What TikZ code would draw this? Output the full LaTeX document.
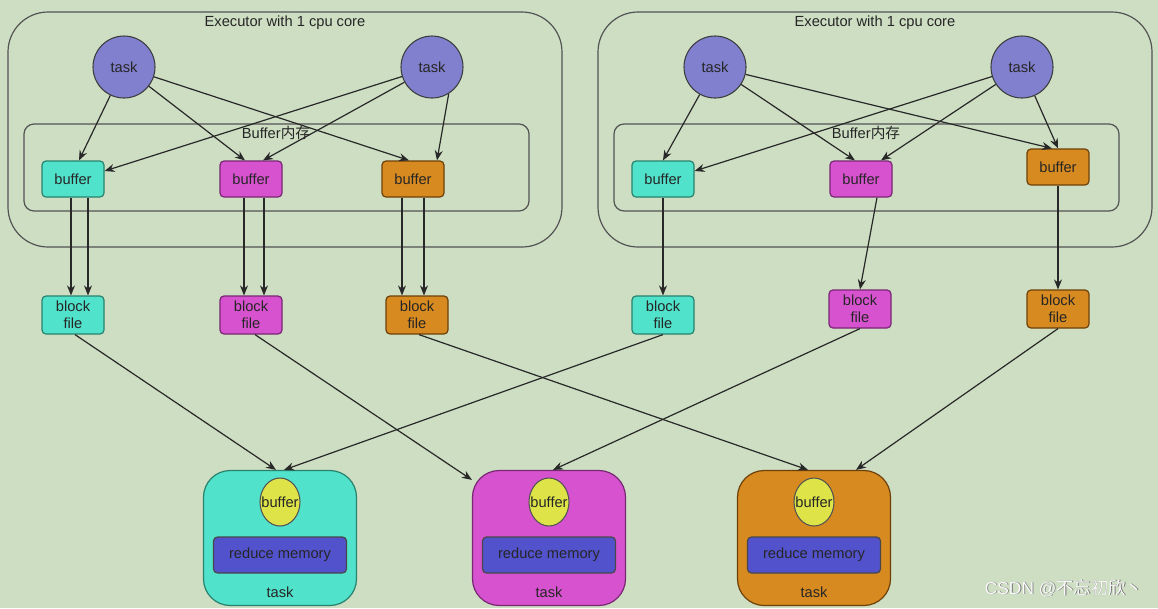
\documentclass[tikz,border=0pt]{standalone}
\usepackage{fontspec}
\setmainfont{Liberation Sans}
\newfontfamily\cjk{Noto Sans CJK SC}
\usetikzlibrary{arrows.meta,calc,shapes.geometric}
\definecolor{bg}{RGB}{206,222,195}
\definecolor{cy}{RGB}{80,226,202}
\definecolor{cyb}{RGB}{40,130,110}
\definecolor{mg}{RGB}{215,82,207}
\definecolor{mgb}{RGB}{120,40,115}
\definecolor{og}{RGB}{214,138,32}
\definecolor{ogb}{RGB}{110,65,10}
\definecolor{tk}{RGB}{128,128,206}
\definecolor{rm}{RGB}{82,82,204}
\definecolor{yl}{RGB}{222,228,72}
\definecolor{ln}{RGB}{40,40,40}
\tikzset{
  txt/.style={font=\fontsize{11}{12}\selectfont, text=black!85},
  exec/.style={draw=ln!80, line width=0.9pt, rounded corners=30pt, minimum width=415.5pt, minimum height=176.25pt, inner sep=0pt},
  bufmem/.style={draw=ln!80, line width=0.9pt, rounded corners=7.5pt, minimum width=378.75pt, minimum height=65.25pt, inner sep=0pt},
  taskc/.style={circle, draw=ln!90, line width=0.8pt, fill=tk, minimum size=46.5pt, inner sep=0pt, txt},
  buf/.style={draw=#1b, fill=#1, line width=0.9pt, rounded corners=3pt, minimum width=46.5pt, minimum height=27pt, inner sep=0pt, txt},
  blk/.style={draw=#1b, fill=#1, line width=0.9pt, rounded corners=3pt, minimum width=46.5pt, minimum height=28.5pt, inner sep=0pt, align=center, txt, font=\fontsize{11}{13}\selectfont},
  rtask/.style={draw=#1b, fill=#1, line width=0.9pt, rounded corners=20pt, minimum width=114.75pt, minimum height=101.25pt, inner sep=0pt},
  ybuf/.style={ellipse, draw=ln!80, fill=yl, line width=0.8pt, minimum width=30pt, minimum height=36pt, inner sep=0pt},
  rmem/.style={draw=ln!85, fill=rm, line width=0.9pt, rounded corners=3pt, minimum width=99.75pt, minimum height=27pt, inner sep=0pt, txt},
  arr/.style={draw=ln, line width=0.9pt, -{Stealth[length=7.5pt,width=6pt]}},
}
\begin{document}
\begin{tikzpicture}[x=0.75pt,y=-0.75pt]
\fill[bg] (0,0) rectangle (1158,608);
\useasboundingbox (0,0) rectangle (1158,608);

% executors
\node[exec] (ex1) at (285,129.5) {};
\node[exec] (ex2) at (875,129.5) {};
\node[txt] (ex1t) at (285,23) {Executor with 1 cpu core};
\node[txt] (ex2t) at (875,23) {Executor with 1 cpu core};
\node[bufmem] (bm1) at (276.5,167.5) {};
\node[bufmem] (bm2) at (866.5,167.5) {};
\node[txt] (bm1t) at (276,133) {Buffer{\cjk 内存}};
\node[txt] (bm2t) at (866,133) {Buffer{\cjk 内存}};

% tasks
\node[taskc] (t1) at (124,67) {task};
\node[taskc] (t2) at (432,67) {task};
\node[taskc] (t3) at (715,67) {task};
\node[taskc] (t4) at (1022,67) {task};

% buffers
\node[buf=cy] (b1) at (73,179) {buffer};
\node[buf=mg] (b2) at (251,179) {buffer};
\node[buf=og] (b3) at (413,179) {buffer};
\node[buf=cy] (b4) at (663,179) {buffer};
\node[buf=mg] (b5) at (861,179) {buffer};
\node[buf=og] (b6) at (1058,167) {buffer};

% block files
\node[blk=cy] (f1) at (73,315) {block\\file};
\node[blk=mg] (f2) at (251,315) {block\\file};
\node[blk=og] (f3) at (417,315) {block\\file};
\node[blk=cy] (f4) at (663,315) {block\\file};
\node[blk=mg] (f5) at (860,309) {block\\file};
\node[blk=og] (f6) at (1058,309) {block\\file};

% reduce tasks
\foreach \c/\x/\n in {cy/280/1, mg/549/2, og/814/3}{
  \node[rtask=\c] (r\n) at (\x,538) {};
  \node[ybuf] (y\n) at (\x,502) {};
  \node[txt] (yt\n) at (\x,502) {buffer};
  \node[rmem] (m\n) at (\x,555) {reduce memory};
  \node[txt] (rt\n) at (\x,592) {task};
}

% task -> buffer arrows (left executor)
\draw[arr] (t1) -- ($(b1.north)+(6,0)$);
\draw[arr] (t1) -- ($(b2.north)+(-6,0)$);
\draw[arr] (t1) -- ($(b3.north)+(-4,0)$);
\draw[arr] (t2) -- ($(b1.east)+(0,-8)$);
\draw[arr] (t2) -- ($(b2.north)+(12,0)$);
\draw[arr] (t2.-58) -- ($(b3.north)+(24,0)$);
% right executor
\draw[arr] (t3) -- ($(b4.north)+(0,0)$);
\draw[arr] (t3) -- ($(b5.north)+(-6,0)$);
\draw[arr] (t3) -- ($(b6.north)+(-6,0)$);
\draw[arr] (t4) -- ($(b4.east)+(0,-8)$);
\draw[arr] (t4) -- ($(b5.north)+(20,0)$);
\draw[arr] (t4) -- ($(b6.north)+(0,0)$);

% buffer -> block file
\draw[arr] ($(b1.south)+(-2,0)$) -- ($(f1.north)+(-2,0)$);
\draw[arr] ($(b1.south)+(15,0)$) -- ($(f1.north)+(15,0)$);
\draw[arr] ($(b2.south)+(-7,0)$) -- ($(f2.north)+(-7,0)$);
\draw[arr] ($(b2.south)+(13,0)$) -- ($(f2.north)+(13,0)$);
\draw[arr] ($(b3.south)+(-11,0)$) -- ($(f3.north)+(-15,0)$);
\draw[arr] ($(b3.south)+(11,0)$) -- ($(f3.north)+(7,0)$);
\draw[arr] (b4) -- (f4);
\draw[arr] ($(b5.south)+(16,0)$) -- ($(f5.north)+(0,0)$);
\draw[arr] (b6) -- (f6);

% block file -> reduce task
\draw[arr] ($(f1.south)+(2,0)$) -- ($(r1.north)+(-4,0)$);
\draw[arr] ($(f4.south)+(0,0)$) -- ($(r1.north)+(4,0)$);
\draw[arr] ($(f2.south)+(4,0)$) -- ($(r2.north west)+(0,10)$);
\draw[arr] ($(f5.south)+(0,0)$) -- ($(r2.north)+(4,0)$);
\draw[arr] ($(f3.south)+(2,0)$) -- ($(r3.north)+(-6,0)$);
\draw[arr] ($(f6.south)+(0,0)$) -- ($(r3.north)+(42,0)$);

% watermark
\node[font=\fontsize{13}{15}\selectfont, text=black!55] (wm0) at (1064.8,588.8) {CSDN @{\cjk 不忘初欣丶}};
\node[font=\fontsize{13}{15}\selectfont, text=white!95!gray] (wm) at (1064,588) {CSDN @{\cjk 不忘初欣丶}};
\end{tikzpicture}
\end{document}
